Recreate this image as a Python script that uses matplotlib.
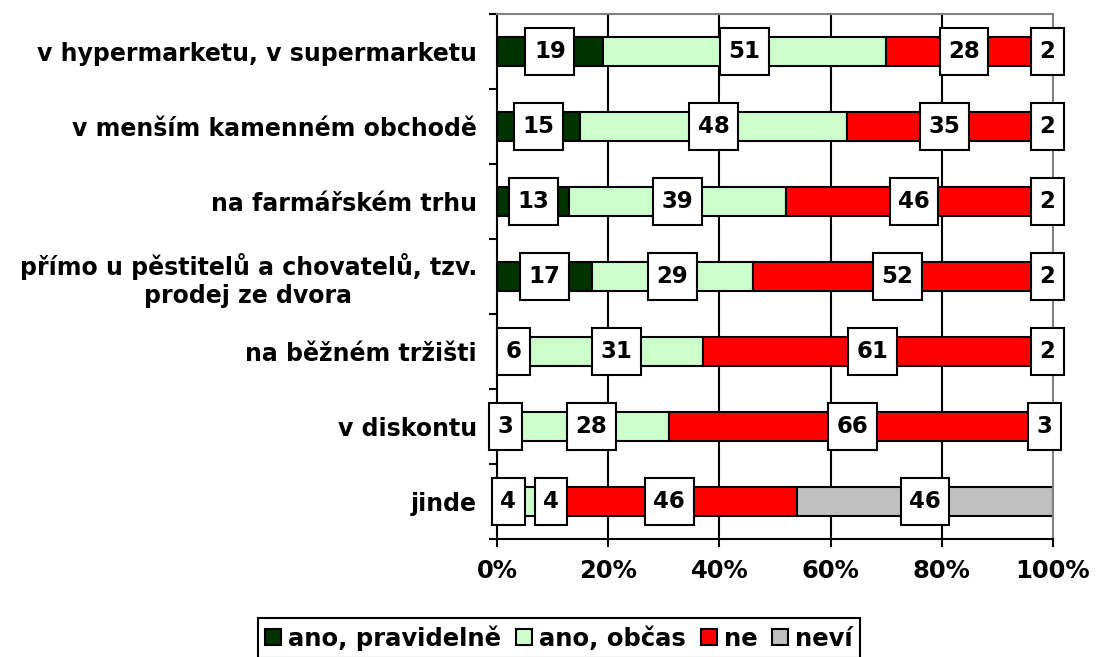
import numpy as np
from matplotlib import pyplot as plt
from matplotlib import transforms
from matplotlib.patches import Patch, Rectangle

# categories top to bottom
categories = [
    "v hypermarketu, v supermarketu",
    "v menším kamenném obchodě",
    "na farmářském trhu",
    "přímo u pěstitelů a chovatelů, tzv.\nprodej ze dvora",
    "na běžném tržišti",
    "v diskontu",
    "jinde",
]
series_names = ["ano, pravidelně", "ano, občas", "ne", "neví"]
ano_pravidelne = [19, 15, 13, 17, 6, 3, 4]
ano_obcas = [51, 48, 39, 29, 31, 28, 4]
ne = [28, 35, 46, 52, 61, 66, 46]
nevi = [2, 2, 2, 2, 2, 3, 46]
x_ticks = [0, 20, 40, 60, 80, 100]
x_tick_labels = ["0%", "20%", "40%", "60%", "80%", "100%"]

COLORS = ["#003300", "#CCFFCC", "#FF0000", "#C0C0C0"]
FS = 17.5          # tick / legend text
FS_CAT = 17        # category names
FS_LABEL = 16.5    # numbers in the boxes
LW = 1.5

plt.rcParams["font.family"] = ["DejaVu Sans"]
plt.rcParams["font.weight"] = "bold"

W, H = 1097, 657
DPI = 100
fig = plt.figure(figsize=(W / DPI, H / DPI), dpi=DPI)
# axes box in pixels: left 497, right 1053, top 14, bottom 539
ax = fig.add_axes([497 / W, (H - 539) / H, 556 / W, 525 / H])

series = [ano_pravidelne, ano_obcas, ne, nevi]
y = np.arange(len(categories))
left = np.zeros(len(categories))
labels = []  # one list of text objects per series
for vals, color in zip(series, COLORS):
    vals = np.asarray(vals, dtype=float)
    ax.barh(y, vals, left=left, height=0.39, color=color,
            edgecolor="black", linewidth=LW, zorder=2)
    row_texts = []
    for yi, (l, v) in enumerate(zip(left, vals)):
        t = ax.text(l + v / 2, yi, f"{v:.0f}", ha="center", va="center",
                    fontsize=FS_LABEL, fontweight="bold", zorder=5)
        row_texts.append(t)
    labels.append(row_texts)
    left = left + vals

ax.set_xlim(0, 100)
ax.set_ylim(len(categories) - 0.5, -0.5)

# vertical gridlines
for gx in x_ticks[1:-1]:
    ax.axvline(gx, color="black", lw=LW, zorder=1)

ax.set_xticks(x_ticks)
ax.set_xticklabels(x_tick_labels, fontsize=FS, fontweight="bold")
ax.tick_params(axis="x", length=5.5, width=LW, pad=9, direction="out")

ax.set_yticks(y)
ax.set_yticklabels(categories, fontsize=FS_CAT, fontweight="bold",
                   multialignment="center")
ax.set_yticks(np.arange(len(categories) + 1) - 0.5, minor=True)
ax.tick_params(axis="y", which="major", length=0, pad=14.4)
ax.tick_params(axis="y", which="minor", length=5.5, width=LW, direction="out")

for side in ("left", "bottom"):
    ax.spines[side].set_color("black")
    ax.spines[side].set_linewidth(LW)
for side in ("top", "right"):
    ax.spines[side].set_color("#808080")
    ax.spines[side].set_linewidth(LW)

# white boxes behind the numbers; overlapping boxes get pushed right
fig.canvas.draw()
renderer = fig.canvas.get_renderer()
px_per_unit = ax.transData.transform((1, 0))[0] - ax.transData.transform((0, 0))[0]
pad_x, box_h, gap = 8.5, 47, 10
for yi in range(len(categories)):
    prev_right = None
    for row_texts in labels:
        t = row_texts[yi]
        tw = t.get_window_extent(renderer).width
        bw = tw + 2 * pad_x
        tx, ty = t.get_position()
        cx = ax.transData.transform((tx, ty))[0]
        x0 = cx - bw / 2
        if prev_right is not None and prev_right - bw < x0 < prev_right + gap:
            shift = prev_right + gap - x0
            tx += shift / px_per_unit
            t.set_position((tx, ty))
            x0 += shift
        prev_right = x0 + bw
        trans = fig.dpi_scale_trans + transforms.ScaledTranslation(tx, ty, ax.transData)
        ax.add_patch(Rectangle((-bw / 2 / DPI, -box_h / 2 / DPI), bw / DPI, box_h / DPI,
                               transform=trans, facecolor="white",
                               edgecolor="black", linewidth=LW, zorder=4,
                               clip_on=False))

handles = [Patch(facecolor=c, edgecolor="black", linewidth=LW) for c in COLORS]
leg = fig.legend(handles, series_names, loc="upper center",
                 bbox_to_anchor=(559 / W, 1 - 618 / H), ncol=4,
                 prop={"weight": "bold", "size": FS},
                 handlelength=0.66, handleheight=0.66, handletextpad=0.3,
                 columnspacing=0.6, borderpad=0.3, borderaxespad=0,
                 fancybox=False, edgecolor="black", framealpha=1)
leg.get_frame().set_linewidth(LW)

fig.savefig("out.png", dpi=DPI)
